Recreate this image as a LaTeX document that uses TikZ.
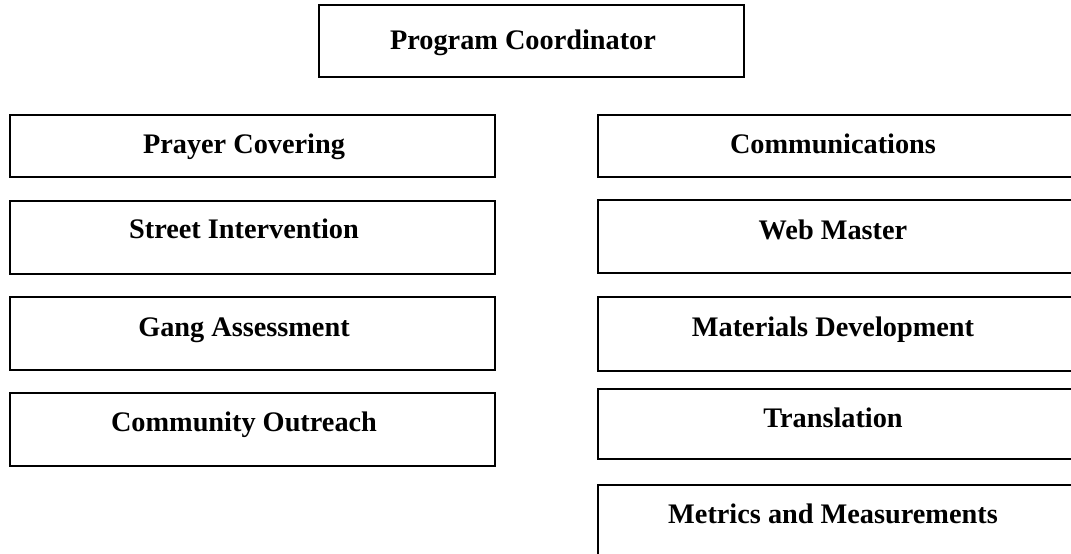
\documentclass[tikz,border=0pt]{standalone}
\usepackage{fontspec}
\setmainfont{Liberation Serif}
\begin{document}
\begin{tikzpicture}[x=1pt,y=-1pt,
  box/.style={draw=black,line width=1.5pt,rectangle,anchor=north west,inner sep=0pt},
  lbl/.style={anchor=base,inner sep=0pt,font=\fontsize{28.3}{34}\selectfont\bfseries}]
\useasboundingbox (0,0) rectangle (1071,554);
\clip (0,0) rectangle (1071,554);
% top box
\node[box,line width=2pt,minimum width=425pt,minimum height=72pt] (coord) at (318,4) {};
\node[lbl] (coordT) at (523,49) {Program Coordinator};
% left column
\node[box,minimum width=485pt,minimum height=62pt] (prayer) at (9,114) {};
\node[lbl] (prayerT) at (244,153) {Prayer Covering};
\node[box,minimum width=485pt,minimum height=73pt] (street) at (9,200) {};
\node[lbl] (streetT) at (244,238) {Street Intervention};
\node[box,minimum width=485pt,minimum height=73pt] (gang) at (9,296) {};
\node[lbl] (gangT) at (244,336) {Gang Assessment};
\node[box,minimum width=485pt,minimum height=73pt] (outreach) at (9,392) {};
\node[lbl] (outreachT) at (244,431) {Community Outreach};
% right column
\node[box,minimum width=485pt,minimum height=62pt] (comm) at (597,114) {};
\node[lbl] (commT) at (833,153) {Communications};
\node[box,minimum width=485pt,minimum height=73pt] (web) at (597,199) {};
\node[lbl] (webT) at (833,239) {Web Master};
\node[box,minimum width=485pt,minimum height=74pt] (mat) at (597,296) {};
\node[lbl] (matT) at (833,336) {Materials Development};
\node[box,minimum width=485pt,minimum height=70pt] (trans) at (597,388) {};
\node[lbl] (transT) at (833,427) {Translation};
\node[box,minimum width=485pt,minimum height=80pt] (metrics) at (597,484) {};
\node[lbl] (metricsT) at (833,523) {Metrics and Measurements};
\end{tikzpicture}
\end{document}
